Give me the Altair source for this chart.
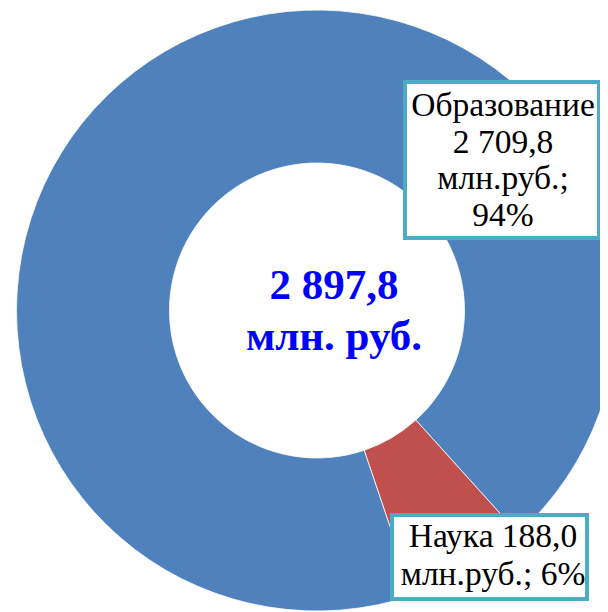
import altair as alt
import pandas as pd
import math

categories = ["Образование", "Наука"]
values = [2709.8, 188.0]
shares = [94, 6]
colors = ["#4F81BD", "#C0504D"]
total = 2897.8


def ru(v):
    return f"{v:,.1f}".replace(",", " ").replace(".", ",")


df = pd.DataFrame({"cat": categories, "val": values, "ord": [0, 1]})

start = 161.3 * math.pi / 180
CX, CY = 309, 302.5
SERIF = "Liberation Serif, Times New Roman, serif"

arc = alt.Chart(df).mark_arc(
    outerRadius=300.5, innerRadius=147.5, stroke="white", strokeWidth=0.8
).encode(
    theta=alt.Theta("val:Q", stack=True,
                    scale=alt.Scale(range=[start, start + 2 * math.pi])),
    color=alt.Color("cat:N", scale=alt.Scale(domain=categories, range=colors), legend=None),
    order=alt.Order("ord:Q"),
    x=alt.value(CX),
    y=alt.value(CY),
)

center_txt = alt.Chart(pd.DataFrame({"t": [f"{ru(total)}\nмлн. руб."]})).mark_text(
    font=SERIF, fontSize=43, fontWeight="bold", color="#0000FF",
    lineBreak="\n", lineHeight=51, align="center", baseline="alphabetic"
).encode(text="t:N", x=alt.value(326), y=alt.value(291))

BORDER = "#4BACC6"

box1 = alt.Chart(pd.DataFrame({"a": [0]})).mark_rect(
    fill="white", stroke=BORDER, strokeWidth=4
).encode(x=alt.value(397), x2=alt.value(591), y=alt.value(74), y2=alt.value(230))

lab1 = alt.Chart(pd.DataFrame({"t": [f"{categories[0]}\n{ru(values[0])}\nмлн.руб.;\n{shares[0]}%"]})).mark_text(
    font=SERIF, fontSize=33.5, color="black",
    lineBreak="\n", lineHeight=36.7, align="center", baseline="alphabetic"
).encode(text="t:N", x=alt.value(495), y=alt.value(108))

box2 = alt.Chart(pd.DataFrame({"a": [0]})).mark_rect(
    fill="white", stroke=BORDER, strokeWidth=4
).encode(x=alt.value(384), x2=alt.value(579), y=alt.value(507), y2=alt.value(591))

lab2 = alt.Chart(pd.DataFrame({"t": [f"{categories[1]} {ru(values[1])}\nмлн.руб.; {shares[1]}%"]})).mark_text(
    font=SERIF, fontSize=33.5, color="black",
    lineBreak="\n", lineHeight=38, align="center", baseline="alphabetic"
).encode(text="t:N", x=alt.value(485), y=alt.value(539))

chart = alt.layer(arc, center_txt, box1, lab1, box2, lab2).properties(
    width=592, height=604,
    autosize=alt.AutoSizeParams(type="none"),
    padding=0,
).configure_view(stroke=None)

chart.save("out.html", embed_options={"renderer": "svg", "actions": False})
